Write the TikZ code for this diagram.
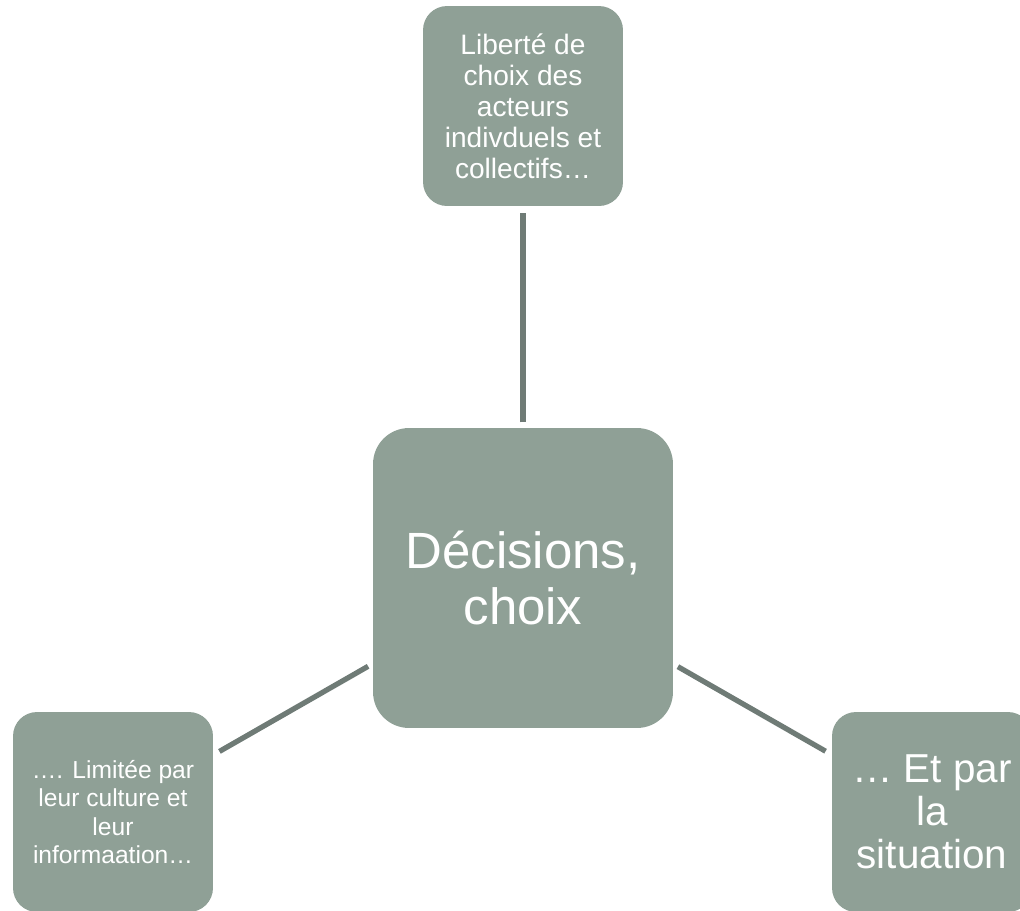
\documentclass[tikz,border=0pt]{standalone}
\usepackage{fontspec}
\setmainfont{Liberation Sans}
\definecolor{boxgreen}{RGB}{143,160,150}
\definecolor{linkgrey}{RGB}{111,123,118}

\begin{document}
\begin{tikzpicture}[
    x=0.02cm, y=-0.02cm,
    every node/.style={fill=boxgreen, text=white, align=center, inner sep=0pt, rounded corners=0.48cm},
    side box/.style={minimum width=4cm, minimum height=4cm},
    main box/.style={minimum width=6cm, minimum height=6cm, rounded corners=0.72cm, font=\fontsize{29}{32}\selectfont},
    link/.style={draw=linkgrey, line width=3pt, shorten <=3pt, shorten >=4pt}
]
    \clip (0,0) rectangle (1020,910);
    \node [main box] (decision) at (523,578) {Décisions,\\choix};
    \node [side box, font=\fontsize{16}{17.6}\selectfont] (liberty) at (523,106)
        {Liberté de\\choix des\\acteurs\\indivduels et\\collectifs…};
    \node [side box, font=\fontsize{14}{16}\selectfont] (culture) at (113,812)
        {…. Limitée par\\leur culture et\\leur\\informaation…};
    \node [side box, font=\fontsize{23}{24.5}\selectfont] (situation) at (932,812)
        {… Et par\\la\\situation};
    % connectors
    \draw [link] (decision) -- (liberty);
    \draw [link] (decision) -- (culture);
    \draw [link] (decision) -- (situation);
\end{tikzpicture}
\end{document}
